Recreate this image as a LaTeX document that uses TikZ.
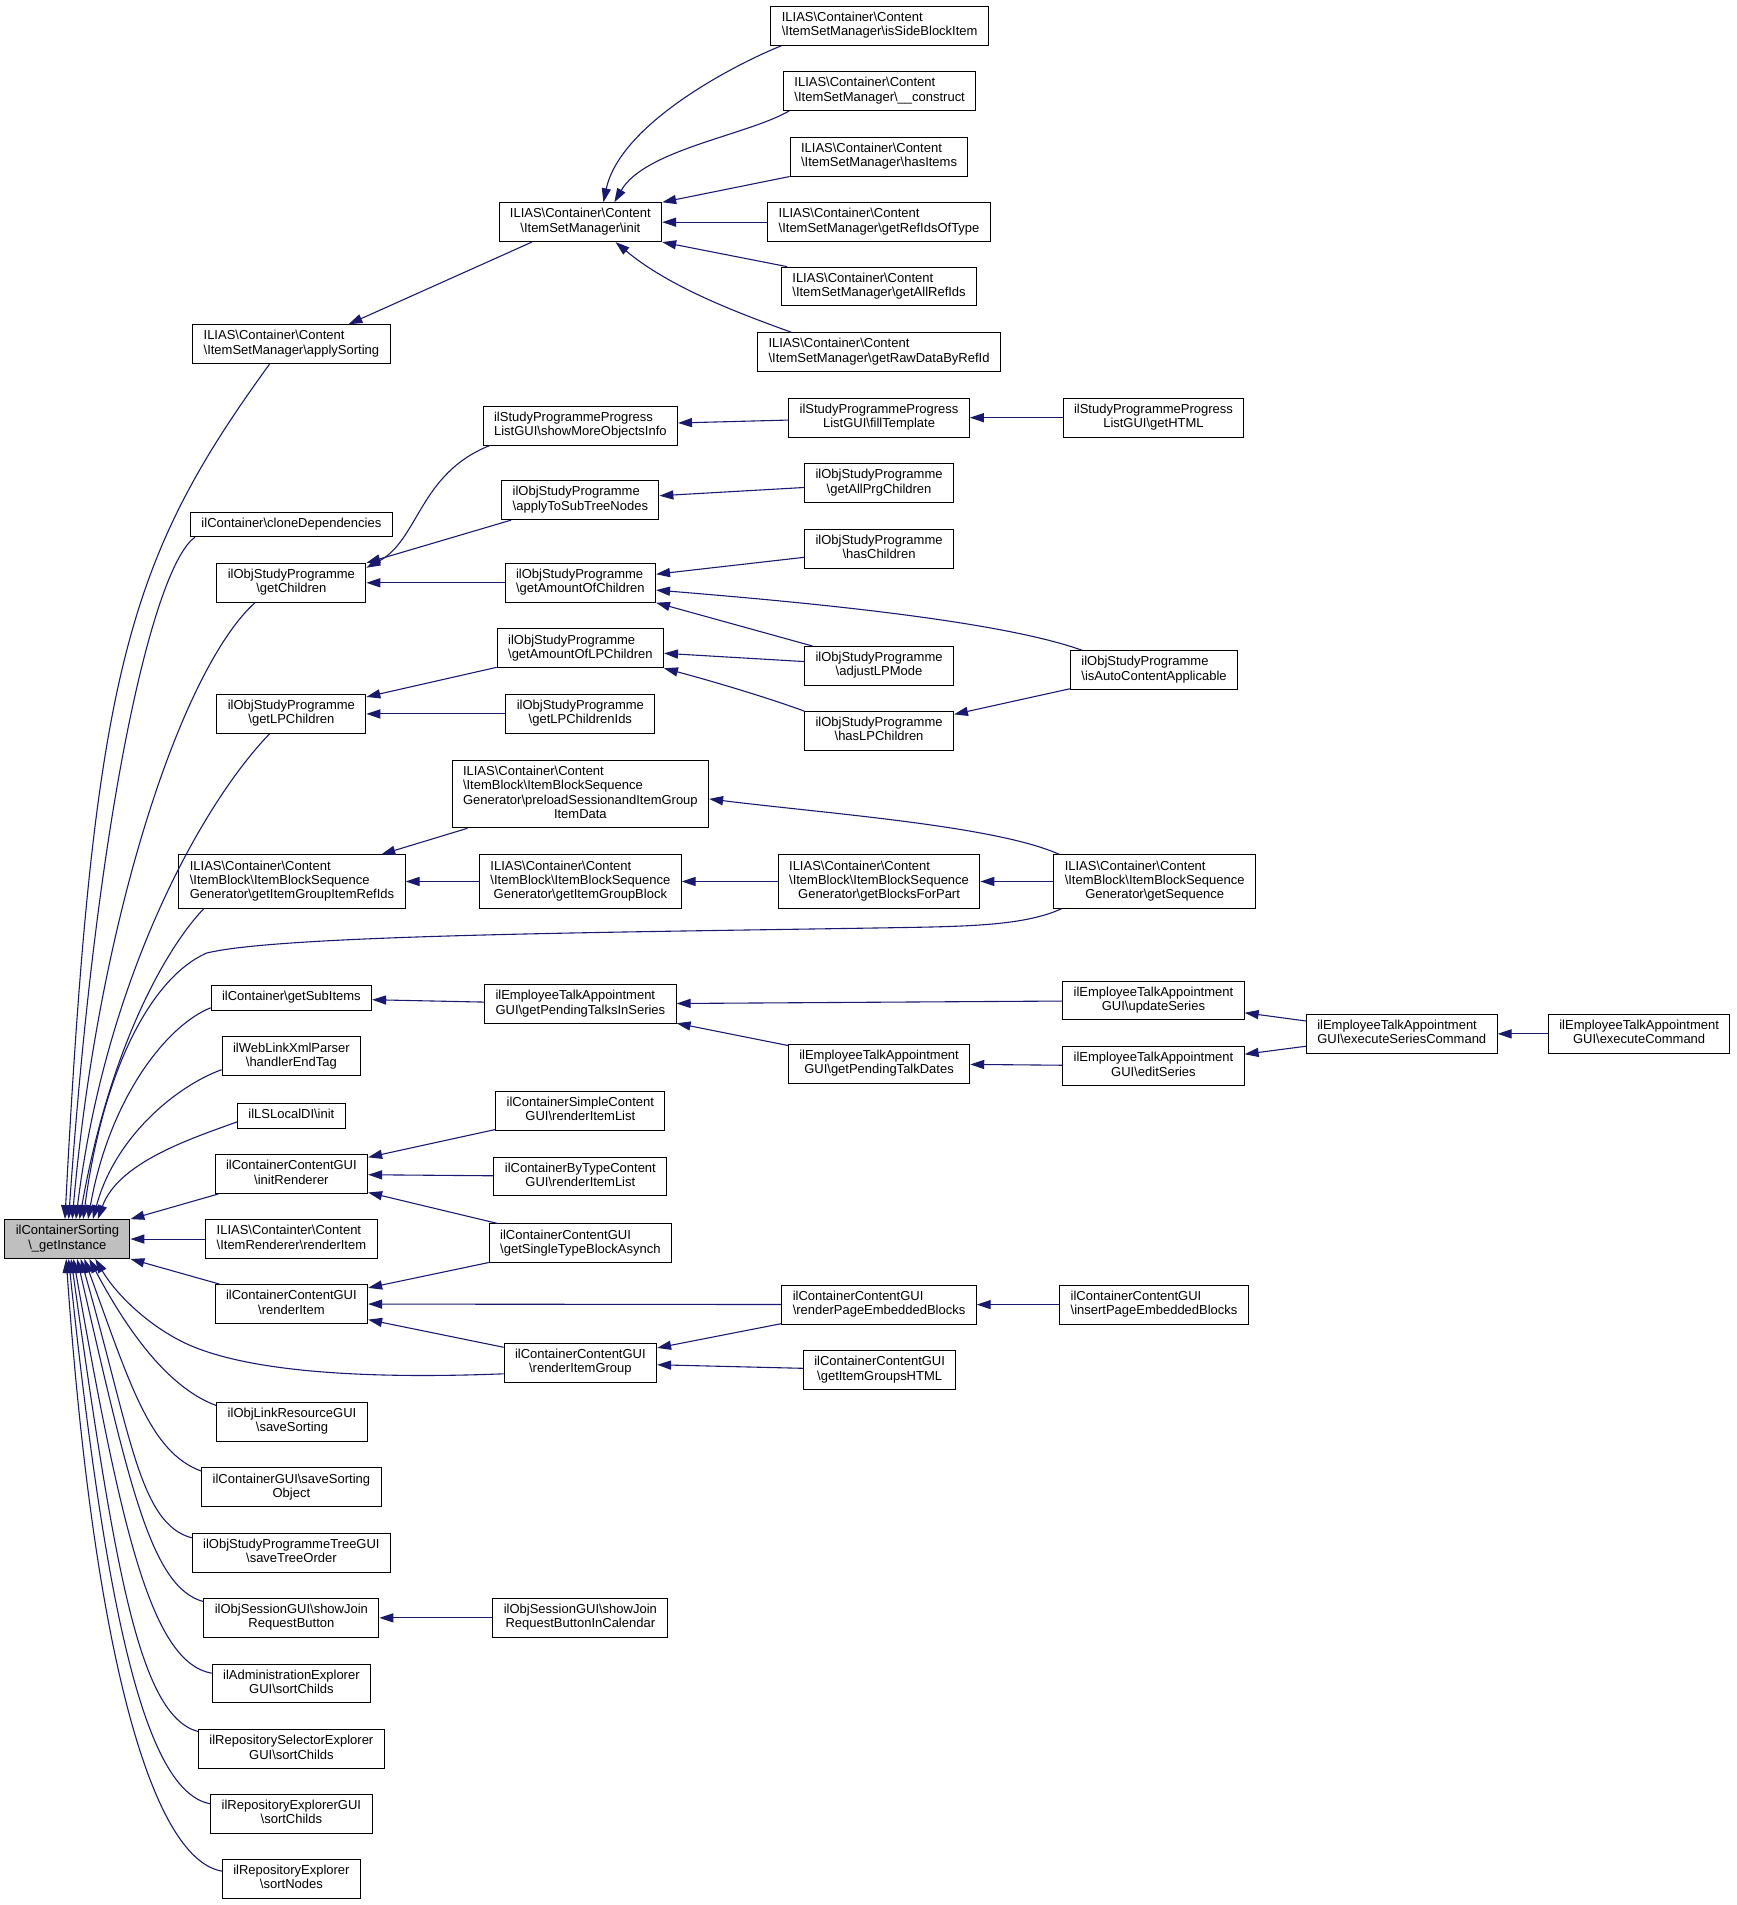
\documentclass[tikz,border=0pt]{standalone}
\usepackage{fontspec}
\setmainfont{Liberation Sans}
\usepackage{tikz}
\usetikzlibrary{arrows.meta}
\definecolor{callblue}{RGB}{25,25,112}
\newcommand{\bs}{\textbackslash}
\newcommand{\lbl}[2]{\begin{tabular}{@{}l@{}}#1\\\multicolumn{1}{@{}c@{}}{#2}\end{tabular}}
\newcommand{\one}[1]{\begin{tabular}{@{}c@{}}#1\end{tabular}}
\begin{document}
\begin{tikzpicture}[x=1pt,y=1pt,
    fnbox/.style={draw=black,fill=white,line width=0.8pt,inner xsep=9pt,inner ysep=4.2pt,font=\fontsize{10.7}{11.8}\selectfont},
    rootbox/.style={fnbox,fill=gray!50},
    callarrow/.style={draw=callblue,line width=0.9pt,{Triangle[length=11.5pt,width=7.5pt]}-}]
      \useasboundingbox (0,0) rectangle (1430,-1569);
      \node[fnbox] (sideblock) at (724.5,-21.3) {\lbl{ILIAS\bs Container\bs Content}{\bs ItemSetManager\bs isSideBlockItem}};
      \node[fnbox] (construct) at (724.5,-75) {\lbl{ILIAS\bs Container\bs Content}{\bs ItemSetManager\bs \_\_construct}};
      \node[fnbox] (hasitems) at (724,-129) {\lbl{ILIAS\bs Container\bs Content}{\bs ItemSetManager\bs hasItems}};
      \node[fnbox] (refidsoftype) at (724,-183) {\lbl{ILIAS\bs Container\bs Content}{\bs ItemSetManager\bs getRefIdsOfType}};
      \node[fnbox] (allrefids) at (724,-236) {\lbl{ILIAS\bs Container\bs Content}{\bs ItemSetManager\bs getAllRefIds}};
      \node[fnbox] (rawdata) at (724,-290) {\lbl{ILIAS\bs Container\bs Content}{\bs ItemSetManager\bs getRawDataByRefId}};
      \node[fnbox] (init) at (478,-183) {\lbl{ILIAS\bs Container\bs Content}{\bs ItemSetManager\bs init}};
      \node[fnbox] (applysorting) at (240,-283.5) {\lbl{ILIAS\bs Container\bs Content}{\bs ItemSetManager\bs applySorting}};
      \node[fnbox] (showmore) at (478,-350.5) {\lbl{ilStudyProgrammeProgress}{ListGUI\bs showMoreObjectsInfo}};
      \node[fnbox] (filltemplate) at (724,-344) {\lbl{ilStudyProgrammeProgress}{ListGUI\bs fillTemplate}};
      \node[fnbox] (gethtml) at (950,-344) {\lbl{ilStudyProgrammeProgress}{ListGUI\bs getHTML}};
      \node[fnbox] (clonedep) at (240,-432) {\one{ilContainer\bs cloneDependencies}};
      \node[fnbox] (applytosub) at (478,-412) {\lbl{ilObjStudyProgramme}{\bs applyToSubTreeNodes}};
      \node[fnbox] (allprg) at (724,-398) {\lbl{ilObjStudyProgramme}{\bs getAllPrgChildren}};
      \node[fnbox] (getchildren) at (240,-480) {\lbl{ilObjStudyProgramme}{\bs getChildren}};
      \node[fnbox] (amountchildren) at (478,-480) {\lbl{ilObjStudyProgramme}{\bs getAmountOfChildren}};
      \node[fnbox] (haschildren) at (724,-452) {\lbl{ilObjStudyProgramme}{\bs hasChildren}};
      \node[fnbox] (adjustlp) at (724,-548.5) {\lbl{ilObjStudyProgramme}{\bs adjustLPMode}};
      \node[fnbox] (autocontent) at (950.5,-552) {\lbl{ilObjStudyProgramme}{\bs isAutoContentApplicable}};
      \node[fnbox] (amountlp) at (478,-534) {\lbl{ilObjStudyProgramme}{\bs getAmountOfLPChildren}};
      \node[fnbox] (lpchildren) at (240,-588) {\lbl{ilObjStudyProgramme}{\bs getLPChildren}};
      \node[fnbox] (lpchildrenids) at (478,-588) {\lbl{ilObjStudyProgramme}{\bs getLPChildrenIds}};
      \node[fnbox] (haslp) at (724,-602) {\lbl{ilObjStudyProgramme}{\bs hasLPChildren}};
      \node[fnbox] (preload) at (478,-654) {\lbl{ILIAS\bs Container\bs Content\\\bs ItemBlock\bs ItemBlockSequence\\Generator\bs preloadSessionandItemGroup}{ItemData}};
      \node[fnbox] (grouprefids) at (240.5,-726) {\lbl{ILIAS\bs Container\bs Content\\\bs ItemBlock\bs ItemBlockSequence}{Generator\bs getItemGroupItemRefIds}};
      \node[fnbox] (groupblock) at (478,-726) {\lbl{ILIAS\bs Container\bs Content\\\bs ItemBlock\bs ItemBlockSequence}{Generator\bs getItemGroupBlock}};
      \node[fnbox] (blocksforpart) at (724,-726) {\lbl{ILIAS\bs Container\bs Content\\\bs ItemBlock\bs ItemBlockSequence}{Generator\bs getBlocksForPart}};
      \node[fnbox] (sequence) at (951,-726) {\lbl{ILIAS\bs Container\bs Content\\\bs ItemBlock\bs ItemBlockSequence}{Generator\bs getSequence}};
      \node[fnbox] (subitems) at (240,-822) {\one{ilContainer\bs getSubItems}};
      \node[fnbox] (pendingseries) at (478,-827) {\lbl{ilEmployeeTalkAppointment}{GUI\bs getPendingTalksInSeries}};
      \node[fnbox] (updateseries) at (950,-824) {\lbl{ilEmployeeTalkAppointment}{GUI\bs updateSeries}};
      \node[fnbox] (execseries) at (1154.5,-851.5) {\lbl{ilEmployeeTalkAppointment}{GUI\bs executeSeriesCommand}};
      \node[fnbox] (execcommand) at (1350,-851.5) {\lbl{ilEmployeeTalkAppointment}{GUI\bs executeCommand}};
      \node[fnbox] (pendingdates) at (724,-876) {\lbl{ilEmployeeTalkAppointment}{GUI\bs getPendingTalkDates}};
      \node[fnbox] (editseries) at (950,-878) {\lbl{ilEmployeeTalkAppointment}{GUI\bs editSeries}};
      \node[fnbox] (endtag) at (240,-870) {\lbl{ilWebLinkXmlParser}{\bs handlerEndTag}};
      \node[fnbox] (lsinit) at (240,-919) {\one{ilLSLocalDI\bs init}};
      \node[fnbox] (simplelist) at (478,-915) {\lbl{ilContainerSimpleContent}{GUI\bs renderItemList}};
      \node[fnbox] (initrenderer) at (240,-967) {\lbl{ilContainerContentGUI}{\bs initRenderer}};
      \node[fnbox] (bytypelist) at (478,-969) {\lbl{ilContainerByTypeContent}{GUI\bs renderItemList}};
      \node[rootbox] (getinstance) at (55.5,-1020.5) {\lbl{ilContainerSorting}{\bs \_getInstance}};
      \node[fnbox] (itemrenderer) at (240,-1020.5) {\lbl{ILIAS\bs Containter\bs Content}{\bs ItemRenderer\bs renderItem}};
      \node[fnbox] (singletype) at (478,-1024) {\lbl{ilContainerContentGUI}{\bs getSingleTypeBlockAsynch}};
      \node[fnbox] (renderitem) at (240,-1074) {\lbl{ilContainerContentGUI}{\bs renderItem}};
      \node[fnbox] (pageblocks) at (724,-1074.5) {\lbl{ilContainerContentGUI}{\bs renderPageEmbeddedBlocks}};
      \node[fnbox] (insertblocks) at (950.5,-1074.5) {\lbl{ilContainerContentGUI}{\bs insertPageEmbeddedBlocks}};
      \node[fnbox] (itemgroup) at (478,-1122.5) {\lbl{ilContainerContentGUI}{\bs renderItemGroup}};
      \node[fnbox] (groupshtml) at (724.5,-1128.5) {\lbl{ilContainerContentGUI}{\bs getItemGroupsHTML}};
      \node[fnbox] (linksorting) at (240.5,-1171) {\lbl{ilObjLinkResourceGUI}{\bs saveSorting}};
      \node[fnbox] (sortingobject) at (240,-1225) {\lbl{ilContainerGUI\bs saveSorting}{Object}};
      \node[fnbox] (treeorder) at (240,-1279) {\lbl{ilObjStudyProgrammeTreeGUI}{\bs saveTreeOrder}};
      \node[fnbox] (joinbutton) at (240,-1332.5) {\lbl{ilObjSessionGUI\bs showJoin}{RequestButton}};
      \node[fnbox] (joincalendar) at (478,-1332.5) {\lbl{ilObjSessionGUI\bs showJoin}{RequestButtonInCalendar}};
      \node[fnbox] (adminexpl) at (240,-1386.5) {\lbl{ilAdministrationExplorer}{GUI\bs sortChilds}};
      \node[fnbox] (selectorexpl) at (240,-1440.5) {\lbl{ilRepositorySelectorExplorer}{GUI\bs sortChilds}};
      \node[fnbox] (repoexplgui) at (240,-1494) {\lbl{ilRepositoryExplorerGUI}{\bs sortChilds}};
      \node[fnbox] (sortnodes) at (240,-1547.5) {\lbl{ilRepositoryExplorer}{\bs sortNodes}};
      \draw[callarrow] ([xshift=19pt]init.north) .. controls +(78:65) and +(-158:45) .. ([xshift=9pt]sideblock.south west);
      \draw[callarrow] ([xshift=28pt]init.north) .. controls +(60:50) and +(-150:40) .. ([xshift=5pt]construct.south west);
      \draw[callarrow] (init.north east) -- (hasitems.south west);
      \draw[callarrow] (init) -- (refidsoftype);
      \draw[callarrow] (init.south east) -- ([xshift=5pt]allrefids.north west);
      \draw[callarrow] ([xshift=29pt]init.south) .. controls +(-40:60) and +(160:40) .. ([xshift=28pt]rawdata.north west);
      \draw[callarrow] ([xshift=47pt]applysorting.north) -- ([xshift=-40pt]init.south);
      \draw[callarrow] ([yshift=-4pt]getchildren.north east) .. controls (345,-445) and (345,-390) .. ([xshift=6pt]showmore.south west);
      \draw[callarrow] (getchildren.north east) -- ([xshift=8pt]applytosub.south west);
      \draw[callarrow] (getchildren) -- (amountchildren);
      \draw[callarrow] (showmore) -- (filltemplate);
      \draw[callarrow] (filltemplate) -- (gethtml);
      \draw[callarrow] (applytosub) -- (allprg);
      \draw[callarrow] (amountchildren) -- (haschildren);
      \draw[callarrow] ([yshift=-6pt]amountchildren.east) .. controls (650,-495) and (820,-510) .. ([xshift=10pt]autocontent.north west);
      \draw[callarrow] (amountchildren.south east) -- ([xshift=7pt]adjustlp.north west);
      \draw[callarrow] (amountlp) -- (adjustlp);
      \draw[callarrow] (amountlp.south east) .. controls +(-15:40) and +(160:35) .. (haslp.north west);
      \draw[callarrow] (haslp) -- (autocontent);
      \draw[callarrow] (lpchildren) -- (amountlp);
      \draw[callarrow] (lpchildren) -- (lpchildrenids);
      \draw[callarrow] (grouprefids) -- (preload);
      \draw[callarrow] (grouprefids) -- (groupblock);
      \draw[callarrow] (groupblock) -- (blocksforpart);
      \draw[callarrow] (blocksforpart) -- (sequence);
      \draw[callarrow] ([yshift=-4pt]preload.east) .. controls (680,-670) and (820,-680) .. ([xshift=5pt]sequence.north west);
      \draw[callarrow] (subitems) -- (pendingseries);
      \draw[callarrow] (pendingseries) -- (updateseries);
      \draw[callarrow] (pendingseries) -- (pendingdates);
      \draw[callarrow] (pendingdates) -- (editseries);
      \draw[callarrow] (updateseries) -- (execseries);
      \draw[callarrow] (editseries) -- (execseries);
      \draw[callarrow] (execseries) -- (execcommand);
      \draw[callarrow] (initrenderer) -- (simplelist);
      \draw[callarrow] (initrenderer) -- (bytypelist);
      \draw[callarrow] (initrenderer) -- (singletype);
      \draw[callarrow] (renderitem) -- (singletype);
      \draw[callarrow] (renderitem) -- (pageblocks);
      \draw[callarrow] (renderitem) -- (itemgroup);
      \draw[callarrow] (itemgroup) -- (pageblocks);
      \draw[callarrow] (itemgroup) -- (groupshtml);
      \draw[callarrow] (pageblocks) -- (insertblocks);
      \draw[callarrow] (joinbutton) -- (joincalendar);
      \draw[callarrow] ([xshift=-2pt]getinstance.north) .. controls +(87:450) and +(-126:200) .. ([xshift=-18pt]applysorting.south);
      \draw[callarrow] ([xshift=1pt]getinstance.north) .. controls +(86:350) and +(-145:40) .. ([xshift=4pt]clonedep.south west);
      \draw[callarrow] ([xshift=4pt]getinstance.north) .. controls +(85:250) and +(-138:80) .. ([xshift=-30pt]getchildren.south);
      \draw[callarrow] ([xshift=7pt]getinstance.north) .. controls +(83:200) and +(-134:80) .. ([xshift=-18pt]lpchildren.south);
      \draw[callarrow] ([xshift=10pt]getinstance.north) .. controls +(80:150) and +(-134:40) .. ([xshift=21pt]grouprefids.south west);
      \draw[callarrow] ([xshift=13pt]getinstance.north) .. controls (85,-880) and (125,-805) .. (170,-785) .. controls (230,-770) and (500,-768) .. (740,-764) .. controls (800,-763) and (845,-762) .. ([xshift=7pt]sequence.south west);
      \draw[callarrow] ([xshift=17pt]getinstance.north) .. controls +(80:100) and +(-158:40) .. ([yshift=-8pt]subitems.west);
      \draw[callarrow] ([xshift=21pt]getinstance.north) .. controls +(75:70) and +(-160:40) .. ([yshift=-11pt]endtag.west);
      \draw[callarrow] ([xshift=25pt]getinstance.north) .. controls +(70:50) and +(-160:40) .. ([yshift=-5pt]lsinit.west);
      \draw[callarrow] (getinstance.north east) -- ([xshift=3pt]initrenderer.south west);
      \draw[callarrow] (getinstance) -- (itemrenderer);
      \draw[callarrow] (getinstance.south east) -- ([xshift=4pt]renderitem.north west);
      \draw[callarrow] ([xshift=23pt]getinstance.south) .. controls (95,-1065) and (120,-1090) .. (150,-1105) .. controls (200,-1130) and (300,-1136) .. ([yshift=-9pt]itemgroup.west);
      \draw[callarrow] ([xshift=18pt]getinstance.south) .. controls +(-62:60) and +(160:45) .. ([yshift=-3pt]linksorting.north west);
      \draw[callarrow] ([xshift=14pt]getinstance.south) .. controls +(-70:110) and +(160:45) .. ([yshift=-3pt]sortingobject.north west);
      \draw[callarrow] ([xshift=11pt]getinstance.south) .. controls +(-74:150) and +(165:45) .. ([yshift=-4pt]treeorder.north west);
      \draw[callarrow] ([xshift=8pt]getinstance.south) .. controls +(-77:190) and +(165:45) .. ([yshift=-3pt]joinbutton.north west);
      \draw[callarrow] ([xshift=5pt]getinstance.south) .. controls +(-80:230) and +(170:50) .. ([yshift=-8pt]adminexpl.north west);
      \draw[callarrow] ([xshift=3pt]getinstance.south) .. controls +(-82:260) and +(165:50) .. ([yshift=-2pt]selectorexpl.north west);
      \draw[callarrow] ([xshift=1pt]getinstance.south) .. controls +(-84:290) and +(170:55) .. ([yshift=-8pt]repoexplgui.north west);
      \draw[callarrow] ([xshift=-1pt]getinstance.south) .. controls +(-86:320) and +(170:60) .. ([yshift=-10pt]sortnodes.north west);
\end{tikzpicture}
\end{document}
